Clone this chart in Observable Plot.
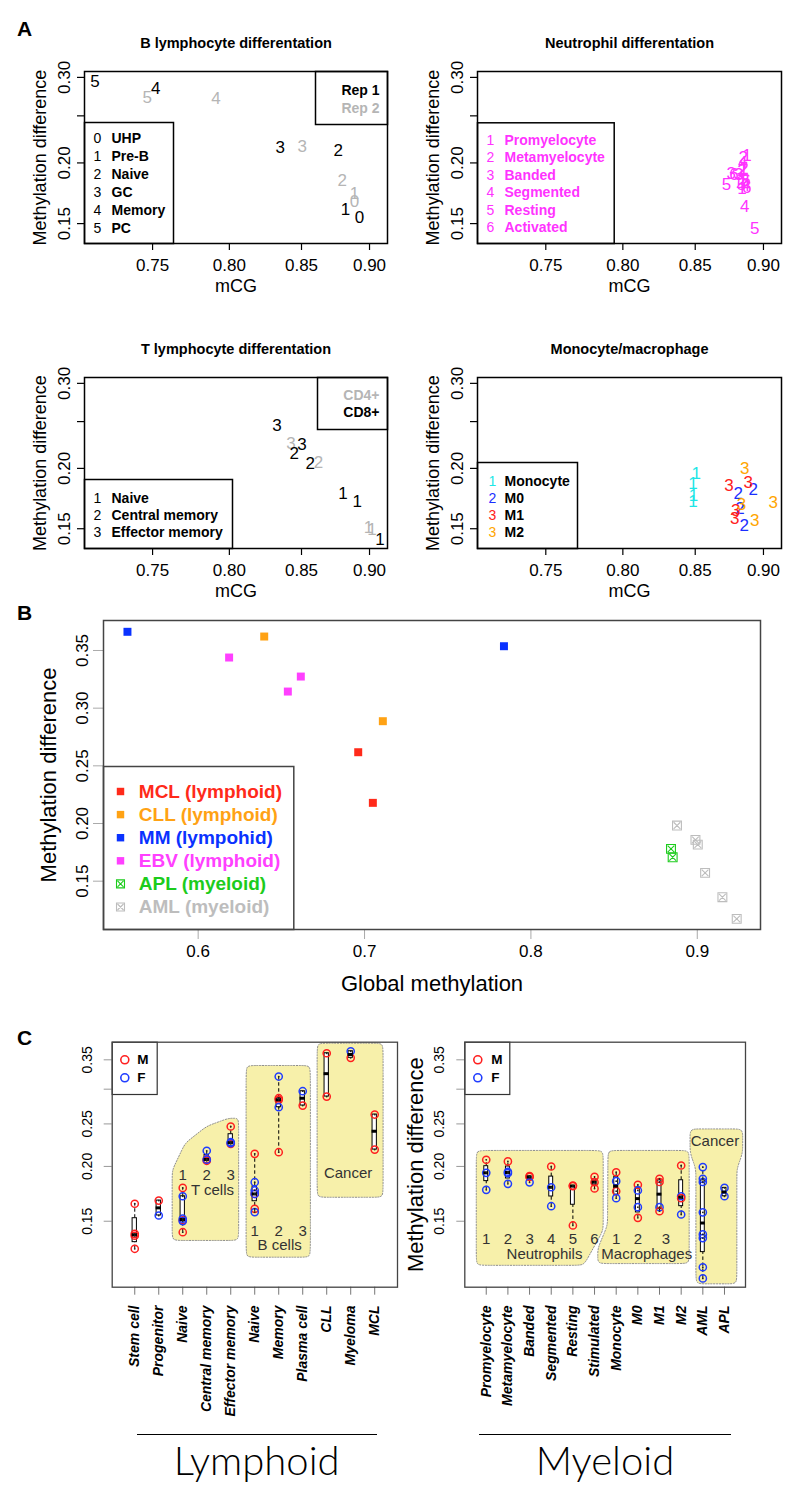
<!DOCTYPE html>
<html><head><meta charset="utf-8">
<script src="https://cdn.jsdelivr.net/npm/d3@7"></script>
<script src="https://cdn.jsdelivr.net/npm/@observablehq/plot@0.6"></script>
<style>
body{margin:0;background:#fff;}
#root{position:relative;width:800px;height:1495px;font-family:"Liberation Sans",Arial,Helvetica,sans-serif;color:#000;overflow:hidden;background:#fff;}
.letter{position:absolute;font-weight:bold;font-size:21px;line-height:21px;}
.grp{position:absolute;text-align:center;font-family:Lato,"Liberation Sans",sans-serif;font-weight:300;font-size:40px;line-height:40px;}
.grpline{position:absolute;height:0;border-top:1.6px solid #000;}
</style></head><body><div id="root"></div>
<script>
// ---------------- DATA ----------------
// Panel A: B lymphocyte
const bLymphLabel = ["5","4","5","4","3","3","2","2","1","0","1","0"];
const bLymphRep   = [1,1,2,2,1,2,1,2,2,2,1,1];
const bLymphX = [0.7145,0.752,0.7467,0.791,0.835,0.8505,0.8767,0.8796,0.8887,0.8887,0.882,0.8925];
const bLymphY = [0.294,0.284,0.273,0.271,0.2154,0.2164,0.212,0.184,0.1732,0.1668,0.160,0.1546];
const bLymphLegendNum = ["0","1","2","3","4","5"];
const bLymphLegendLab = ["UHP","Pre-B","Naive","GC","Memory","PC"];
// Panel A: neutrophil
const neutLabel = ["1","1","1","2","2","2","2","3","3","3","4","4","4","5","5","5","6","6","6"];
const neutX = [0.8877,0.885,0.884, 0.8848,0.8855,0.884,0.883, 0.876,0.8815,0.886, 0.8845,0.8865,0.886, 0.8725,0.8835,0.8935, 0.878,0.887,0.8875];
const neutY = [0.2071,0.1934,0.1769, 0.2053,0.1945,0.1930,0.1825, 0.1900,0.1893,0.1840, 0.1999,0.1793,0.1623, 0.1809,0.1804,0.1467, 0.1894,0.1841,0.1781];
const neutLegendNum = ["1","2","3","4","5","6"];
const neutLegendLab = ["Promyelocyte","Metamyelocyte","Banded","Segmented","Resting","Activated"];
// Panel A: T lymphocyte
const tLabel = ["3","3","3","2","2","2","1","1","1","1","1"];
const tType  = ["CD8+","CD4+","CD8+","CD8+","CD8+","CD4+","CD8+","CD8+","CD4+","CD4+","CD8+"];
const tX = [0.8326,0.8425,0.8503,0.8449,0.8563,0.8623,0.8801,0.8907,0.8993,0.9019,0.908];
const tY = [0.2453,0.2255,0.2241,0.2144,0.2043,0.2059,0.1777,0.1708,0.1508,0.1496,0.1423];
const tLegendNum = ["1","2","3"];
const tLegendLab = ["Naive","Central memory","Effector memory"];
// Panel A: monocyte / macrophage
const monoType = ["Monocyte","Monocyte","Monocyte","Monocyte","M0","M0","M0","M0","M1","M1","M1","M1","M2","M2","M2","M2"];
const monoLabel = ["1","1","1","1","2","2","2","2","3","3","3","3","3","3","3","3"];
const monoX = [0.8507,0.8484,0.8488,0.8484, 0.8811,0.8923,0.8824,0.8856, 0.8744,0.8885,0.8793,0.8786, 0.886,0.9074,0.8836,0.8935];
const monoY = [0.195,0.1858,0.1758,0.1704, 0.1772,0.1809,0.165,0.1524, 0.1844,0.1873,0.1636,0.1573, 0.2001,0.1703,0.1684,0.1556];
const monoLegendNum = ["1","2","3","3"];
const monoLegendLab = ["Monocyte","M0","M1","M2"];
const monoColors = {"Monocyte":"#1ee6e6","M0":"#1a2eff","M1":"#ff2020","M2":"#ffa500"};

// Panel B: cancers
const cancerType = ["MM","MM","CLL","CLL","EBV","EBV","EBV","MCL","MCL","APL","APL","AML","AML","AML","AML","AML","AML"];
const globalMeth = [0.5575,0.7838,0.6397,0.711,0.6186,0.6539,0.6617,0.6962,0.705,0.8842,0.8852,0.8878,0.8989,0.9003,0.9047,0.9151,0.9237];
const methDiff   = [0.3662,0.3537,0.3621,0.2887,0.3439,0.3144,0.3274,0.2618,0.2179,0.178,0.1707,0.1982,0.1858,0.1817,0.1572,0.1361,0.1173];
const bLegendType = ["MCL","CLL","MM","EBV","APL","AML"];
const bLegendText = ["MCL (lymphoid)","CLL (lymphoid)","MM (lympohid)","EBV (lymphoid)","APL (myeloid)","AML (myeloid)"];
const bColors = {MCL:"#ff2a1a", CLL:"#ffa214", MM:"#0a32ff", EBV:"#ff40ff", APL:"#1ccc1c", AML:"#bdbdbd"};

// Panel C: lymphoid
const lymCats = ["Stem cell","Progenitor","Naive","Central memory","Effector memory","Naive","Memory","Plasma cell","CLL","Myeloma","MCL"];
const lymIdx = [1,1,1,1,2,2,3,3,3,3,3,3,4,4,4,4,5,5,5,5,6,6,6,6,6,6,6,7,7,7,7,7,8,8,9,9,10,10,11,11];
const lymSex = ["M","M","M","M","M","F","M","M","M","F","F","F","M","M","F","F","M","M","F","F","M","M","M","F","F","F","F","M","M","M","F","F","M","F","M","M","M","F","M","M"];
const lymVal = [0.1644,0.1404,0.1390,0.1298, 0.1672,0.1546, 0.1787,0.1507,0.1416,0.1710,0.1520,0.1501, 0.2077,0.2060,0.2171,0.2072, 0.2466,0.2252,0.2271,0.2260, 0.2137,0.1731,0.1601,0.1841,0.1763,0.1731,0.1574, 0.2861,0.2837,0.2155,0.3206,0.2729, 0.2753,0.2968, 0.3623,0.2886, 0.3537,0.3661, 0.2626,0.2185];
// Panel C: myeloid
const myeCats = ["Promyelocyte","Metamyelocyte","Banded","Segmented","Resting","Stimulated","Monocyte","M0","M1","M2","AML","APL"];
const myeIdx = [1,1,1,2,2,2,2,3,3,3,4,4,4,5,5,5,6,6,6,7,7,7,7,8,8,8,8,9,9,9,9,10,10,10,10,11,11,11,11,11,11,11,11,12,12];
const myeSex = ["M","F","F","M","F","F","F","M","M","F","M","F","F","M","M","M","M","M","M","M","F","M","F","M","F","F","M","M","M","F","M","M","F","M","F","F","F","F","F","F","F","F","F","F","F"];
const myeVal = [0.2071,0.1934,0.1769, 0.2053,0.1945,0.1930,0.1825, 0.1900,0.1893,0.1840, 0.1999,0.1793,0.1623, 0.1809,0.1804,0.1467, 0.1894,0.1841,0.1781, 0.1940,0.1851,0.1756,0.1693, 0.1816,0.1763,0.1615,0.1527, 0.1874,0.1843,0.1615,0.1581, 0.2010,0.1710,0.1693,0.1554, 0.1993,0.1874,0.1843,0.1572,0.1400,0.1373,0.1178,0.1111, 0.1787,0.1710];

// Panel C annotation regions (category index, methylation difference)
const tCellHull   = [[2.56,0.1356],[2.56,0.196],[3.1,0.226],[4.0,0.247],[4.9,0.2575],[5.33,0.2575],[5.33,0.1356]];
const bCellHull   = [[5.64,0.1242],[5.64,0.3397],[8.32,0.3397],[8.32,0.1242]];
const cancerLHull = [[8.6,0.1701],[8.6,0.3819],[11.35,0.3819],[11.35,0.1701]];
const neutHull    = [[0.54,0.2175],[6.4,0.2175],[6.4,0.143],[5.5,0.119],[0.54,0.119]];
const macroHull   = [[6.62,0.2175],[10.37,0.2175],[10.37,0.1201],[6.15,0.1201],[6.15,0.13],[6.6,0.147]];
const cancerRHull = [[10.41,0.2435],[12.84,0.2435],[12.84,0.215],[12.57,0.197],[12.57,0.108],[10.68,0.108],[10.68,0.197],[10.41,0.215]];
const lymHullText = [["1",3,0.1907],["2",4,0.1907],["3",5,0.1907],["T cells",4.24,0.1764],["1",6,0.1427],["2",7,0.1427],["3",8,0.1427],["B cells",7.04,0.1323],["Cancer",9.89,0.193]];
const myeHullText = [["1",1,0.1368],["2",2,0.1368],["3",3,0.1368],["4",4,0.1368],["5",5,0.1368],["6",6,0.1368],["Neutrophils",3.69,0.1263],["1",7,0.1368],["2",8,0.1368],["3",9.3,0.1368],["Macrophages",8.41,0.1263],["Cancer",11.56,0.228]];

// ---------------- HELPERS ----------------
const FONT = '"Liberation Sans", Arial, Helvetica, sans-serif';
const RED = "#ff1f1f", BLUE = "#1f3cff", GRAY = "#b5b5b5", MAG = "#ff33ff";
const root = document.getElementById("root");
function place(el, left, top) {
  const d = document.createElement("div");
  d.style.position = "absolute"; d.style.left = left + "px"; d.style.top = top + "px";
  d.appendChild(el); root.appendChild(d);
}
function html(cls, left, top, text, extra) {
  const d = document.createElement("div");
  d.className = cls; d.style.left = left + "px"; d.style.top = top + "px";
  if (text) d.textContent = text;
  if (extra) Object.assign(d.style, extra);
  root.appendChild(d);
}
const T = (data, o) => Plot.text(data, {textAnchor: "middle", lineAnchor: "middle", ...o});
const baseStyle = {fontFamily: FONT, fontSize: "14px", overflow: "visible", background: "transparent", color: "#000"};

function legendRows(nums, labs, numColors, labColors, dx0, dx1, dy0, step, fs = 14) {
  return nums.flatMap((n, i) => [
    T([n], {frameAnchor: "top-left", dx: dx0, dy: dy0 + i * step, fill: numColors[i], fontSize: fs}),
    T([labs[i]], {frameAnchor: "top-left", dx: dx1, dy: dy0 + i * step, fill: labColors[i], fontSize: fs, fontWeight: "bold", textAnchor: "start"})
  ]);
}

// ---------------- PANEL A ----------------
const aTicksX = [0.75, 0.80, 0.85, 0.90];
const aTicksY = [0.15, 0.20, 0.25, 0.30];
const aTickLabY = [0.15, 0.20, 0.30];
function panelA(o) {
  const pts = o.x.map((x, i) => ({x, y: o.y[i], t: o.label[i], c: o.color[i]}));
  return Plot.plot({
    width: 400, height: 300,
    marginLeft: o.ml, marginRight: o.mr, marginTop: o.mt, marginBottom: o.mb,
    x: {type: "log", domain: [0.7083, 0.9137]},
    y: {type: "log", domain: [0.1365, 0.3085]},
    color: {type: "identity"},
    style: baseStyle,
    marks: [
      Plot.axisX({ticks: aTicksX, tickSize: 7, tickFormat: () => "", label: null, strokeWidth: 1.2}),
      Plot.axisY({ticks: aTicksY, tickSize: 7, tickFormat: () => "", label: null, strokeWidth: 1.2}),
      T(aTicksX, {x: d => d, frameAnchor: "bottom", dy: 22, text: d => d.toFixed(2), fontSize: 17}),
      T(aTickLabY, {y: d => d, frameAnchor: "left", dx: -20, rotate: -90, text: d => d.toFixed(2), fontSize: 17}),
      T(["mCG"], {frameAnchor: "bottom", dy: 43, fontSize: 18}),
      T(["Methylation difference"], {frameAnchor: "left", dx: -44, rotate: -90, fontSize: 18}),
      T([o.title], {frameAnchor: "top", dy: -28, fontSize: 14.5, fontWeight: "bold"}),
      T(pts, {x: "x", y: "y", text: "t", fill: "c", fontSize: 17}),
      ...o.extra,
      Plot.frame({stroke: "black", strokeWidth: 1.5})
    ]
  });
}

place(panelA({
  title: "B lymphocyte differentation", ml: 84, mr: 13, mt: 71, mb: 57,
  x: bLymphX, y: bLymphY, label: bLymphLabel, color: bLymphRep.map(r => r === 1 ? "#000" : GRAY),
  extra: [
    Plot.frame({insetTop: 51, insetRight: 214, stroke: "black", strokeWidth: 1.5}),
    ...legendRows(bLymphLegendNum, bLymphLegendLab, bLymphLegendNum.map(() => "#000"), bLymphLegendNum.map(() => "#000"), 13, 27, 67.3, 18),
    Plot.frame({insetLeft: 231, insetBottom: 119, stroke: "black", strokeWidth: 1.5}),
    T(["Rep 1"], {frameAnchor: "top-right", dx: -8, dy: 19, textAnchor: "end", fontWeight: "bold", fontSize: 14}),
    T(["Rep 2"], {frameAnchor: "top-right", dx: -8, dy: 37, textAnchor: "end", fontWeight: "bold", fontSize: 14, fill: GRAY})
  ]
}), 0, 0);

place(panelA({
  title: "Neutrophil differentation", ml: 77, mr: 19, mt: 71, mb: 57,
  x: neutX, y: neutY, label: neutLabel, color: neutLabel.map(() => MAG),
  extra: [
    Plot.frame({insetTop: 51.3, insetRight: 167.3, stroke: "black", strokeWidth: 1.5}),
    ...legendRows(neutLegendNum, neutLegendLab, neutLegendNum.map(() => MAG), neutLegendNum.map(() => MAG), 13, 27, 69, 17.5)
  ]
}), 400, 0);

place(panelA({
  title: "T lymphocyte differentation", ml: 84, mr: 13, mt: 77, mb: 52,
  x: tX, y: tY, label: tLabel, color: tType.map(t => t === "CD8+" ? "#000" : GRAY),
  extra: [
    Plot.frame({insetTop: 102, insetRight: 155, stroke: "black", strokeWidth: 1.5}),
    ...legendRows(tLegendNum, tLegendLab, tLegendNum.map(() => "#000"), tLegendNum.map(() => "#000"), 13, 27, 121, 17),
    Plot.frame({insetLeft: 233, insetBottom: 119, stroke: "black", strokeWidth: 1.5}),
    T(["CD4+"], {frameAnchor: "top-right", dx: -8, dy: 18, textAnchor: "end", fontWeight: "bold", fontSize: 14, fill: GRAY}),
    T(["CD8+"], {frameAnchor: "top-right", dx: -8, dy: 35, textAnchor: "end", fontWeight: "bold", fontSize: 14})
  ]
}), 0, 300);

place(panelA({
  title: "Monocyte/macrophage", ml: 77, mr: 19, mt: 77, mb: 52,
  x: monoX, y: monoY, label: monoLabel, color: monoType.map(t => monoColors[t]),
  extra: [
    Plot.frame({insetTop: 85, insetRight: 204, stroke: "black", strokeWidth: 1.5}),
    ...legendRows(monoLegendNum, monoLegendLab, monoLegendLab.map(l => monoColors[l]), monoLegendLab.map(() => "#000"), 15, 27, 104, 17)
  ]
}), 400, 300);

// ---------------- PANEL B ----------------
const crossBox = {
  draw(ctx, size) {
    const s = Math.sqrt(size) / 2;
    ctx.moveTo(-s, -s); ctx.lineTo(s, -s); ctx.lineTo(s, s); ctx.lineTo(-s, s); ctx.closePath();
    ctx.moveTo(-s * 0.75, -s * 0.75); ctx.lineTo(s * 0.75, s * 0.75);
    ctx.moveTo(s * 0.75, -s * 0.75); ctx.lineTo(-s * 0.75, s * 0.75);
  }
};
const isCross = t => t === "APL" || t === "AML";
const bPts = cancerType.map((t, i) => ({t, x: globalMeth[i], y: methDiff[i], c: bColors[t]}));
const bTicksX = [0.6, 0.7, 0.8, 0.9];
const bTicksY = [0.15, 0.20, 0.25, 0.30, 0.35];
place(Plot.plot({
  width: 800, height: 400, marginLeft: 103, marginRight: 40, marginTop: 20, marginBottom: 71,
  x: {domain: [0.5431, 0.938]}, y: {domain: [0.1081, 0.376]},
  color: {type: "identity"}, style: baseStyle,
  marks: [
    Plot.axisX({ticks: bTicksX, tickSize: 10, tickFormat: () => "", label: null, stroke: "#aaa"}),
    Plot.axisY({ticks: bTicksY, tickSize: 10, tickFormat: () => "", label: null, stroke: "#aaa"}),
    T(bTicksX, {x: d => d, frameAnchor: "bottom", dy: 22, text: d => d.toFixed(1), fontSize: 17}),
    T(bTicksY, {y: d => d, frameAnchor: "left", dx: -21, rotate: -90, text: d => d.toFixed(2), fontSize: 17}),
    T(["Global methylation"], {frameAnchor: "bottom", dy: 54, fontSize: 22}),
    T(["Methylation difference"], {frameAnchor: "left", dx: -55, rotate: -90, fontSize: 22}),
    Plot.dot(bPts.filter(d => !isCross(d.t)), {x: "x", y: "y", symbol: "square", r: 4.5, fill: "c", stroke: "none"}),
    Plot.dot(bPts.filter(d => isCross(d.t)), {x: "x", y: "y", symbol: crossBox, r: 5, stroke: "c", fill: "none", strokeWidth: 1.1}),
    Plot.frame({insetTop: 146, insetRight: 466.7, stroke: "#444", strokeWidth: 1.5}),
    ...bLegendType.flatMap((t, i) => [
      isCross(t)
        ? Plot.dot([t], {frameAnchor: "top-left", dx: 17, dy: 171 + i * 23.1, symbol: crossBox, r: 4.5, stroke: bColors[t], fill: "none", strokeWidth: 1.1})
        : Plot.dot([t], {frameAnchor: "top-left", dx: 17, dy: 171 + i * 23.1, symbol: "square", r: 4.2, fill: bColors[t], stroke: "none"}),
      T([bLegendText[i]], {frameAnchor: "top-left", dx: 35.3, dy: 171 + i * 23.1, textAnchor: "start", fontWeight: "bold", fontSize: 19, fill: bColors[t]})
    ]),
    Plot.frame({stroke: "#444", strokeWidth: 1.5})
  ]
}), 0, 600);

// ---------------- PANEL C ----------------
function fivenum(v) {
  const x = v.slice().sort((a, b) => a - b), n = x.length;
  const n4 = Math.floor((n + 3) / 2) / 2;
  return [1, n4, (n + 1) / 2, n + 1 - n4, n].map(k => 0.5 * (x[Math.floor(k) - 1] + x[Math.ceil(k) - 1]));
}
// rounded outline of an annotation region (corner rounding ~r px)
function roundHull(corners, kx, r = 9, ky = 190.5) {
  const P = corners.map(([x, y]) => [x * kx, -Math.log(y) * ky]);
  const n = P.length, out = [];
  const toward = (a, b) => { const dx = b[0] - a[0], dy = b[1] - a[1], L = Math.hypot(dx, dy), t = Math.min(r / L, 0.5); return [a[0] + dx * t, a[1] + dy * t]; };
  for (let i = 0; i < n; i++) {
    const c = P[i], p = P[(i - 1 + n) % n], q = P[(i + 1) % n];
    out.push(toward(c, p), c, toward(c, q));
  }
  return out.map(([u, v]) => ({x: u / kx, y: Math.exp(-v / ky)}));
}
const cTicksY = [0.15, 0.20, 0.25, 0.30, 0.35];
const cTickLabY = [0.15, 0.20, 0.25, 0.35];
function panelC(o) {
  const pts = o.idx.map((i, k) => ({i, s: o.sex[k], v: o.val[k]}));
  const stats = o.cats.map((c, j) => {
    const f = fivenum(pts.filter(d => d.i === j + 1).map(d => d.v));
    return {i: j + 1, min: f[0], q1: f[1], med: f[2], q3: f[3], max: f[4]};
  });
  const fw = 400 - o.ml - o.mr;
  return Plot.plot({
    width: 400, height: 495, marginLeft: o.ml, marginRight: o.mr, marginTop: 41.7, marginBottom: 208.3,
    x: {domain: o.xdom}, y: {type: "log", domain: [0.1061, 0.3839]},
    color: {type: "identity"}, style: baseStyle,
    marks: [
      ...o.hulls.map(h => Plot.line(roundHull(h, o.kx), {x: "x", y: "y", curve: "basis-closed", fill: "#f7f0aa", stroke: "#8c8c8c", strokeWidth: 1, strokeDasharray: "1.2,1.6"})),
      Plot.axisX({ticks: o.cats.map((c, j) => j + 1), tickSize: 8, tickFormat: () => "", label: null, stroke: "#777"}),
      Plot.axisY({ticks: cTicksY, tickSize: 8, tickFormat: () => "", label: null, stroke: "#999"}),
      T(cTickLabY, {y: d => d, frameAnchor: "left", dx: o.ytdx, rotate: -90, text: d => d.toFixed(2), fontSize: 14}),
      T(o.cats, {x: (d, j) => j + 1, frameAnchor: "bottom", dy: 18.3, rotate: -90, textAnchor: "end", fontWeight: "bold", fontStyle: "italic", fontSize: 14}),
      T(o.hullText, {x: d => d[1], y: d => d[2], text: d => d[0], fontSize: 15, fill: "#333"}),
      Plot.ruleX(stats, {x: "i", y1: "min", y2: "q1", stroke: "black", strokeWidth: 1, strokeDasharray: "3.5,2.5"}),
      Plot.ruleX(stats, {x: "i", y1: "q3", y2: "max", stroke: "black", strokeWidth: 1, strokeDasharray: "3.5,2.5"}),
      Plot.rect(stats, {x1: d => d.i - 0.09, x2: d => d.i + 0.09, y1: "q1", y2: "q3", fill: "white", stroke: "black", strokeWidth: 1}),
      Plot.dot(pts, {x: "i", y: "v", r: 3.6, fill: "none", stroke: d => d.s === "M" ? RED : BLUE, strokeWidth: 1.5}),
      Plot.ruleY(stats, {y: "med", x1: d => d.i - 0.11, x2: d => d.i + 0.11, stroke: "black", strokeWidth: 3}),
      Plot.dot(pts, {x: "i", y: "v", r: 0.9, fill: "#222", stroke: "none"}),
      Plot.frame({insetRight: fw - o.legW, insetBottom: 192.7, stroke: "#333", strokeWidth: 1.2, fill: "white"}),
      Plot.dot(["M"], {frameAnchor: "top-left", dx: o.legCx, dy: 17.6, r: 4, stroke: RED, fill: "none", strokeWidth: 1.6}),
      Plot.dot(["F"], {frameAnchor: "top-left", dx: o.legCx, dy: 35.6, r: 4, stroke: BLUE, fill: "none", strokeWidth: 1.6}),
      T(["M"], {frameAnchor: "top-left", dx: o.legTx, dy: 17.6, textAnchor: "start", fontWeight: "bold", fontSize: 13.5}),
      T(["F"], {frameAnchor: "top-left", dx: o.legTx, dy: 35.6, textAnchor: "start", fontWeight: "bold", fontSize: 13.5}),
      ...(o.ylab ? [T(["Methylation difference"], {frameAnchor: "left", dx: -49, rotate: -90, fontSize: 22})] : []),
      Plot.frame({stroke: "#444", strokeWidth: 1.3})
    ]
  });
}
place(panelC({
  cats: lymCats, idx: lymIdx, sex: lymSex, val: lymVal, ml: 111.7, mr: 3, xdom: [0.06, 11.95], kx: 24,
  hulls: [tCellHull, bCellHull, cancerLHull], hullText: lymHullText,
  ytdx: -24.4, legW: 45, legCx: 12.6, legTx: 25, ylab: false
}), 0, 1000);
place(panelC({
  cats: myeCats, idx: myeIdx, sex: myeSex, val: myeVal, ml: 64.3, mr: 55, xdom: [0.01, 12.97], kx: 21.66,
  hulls: [neutHull, macroHull, cancerRHull], hullText: myeHullText,
  ytdx: -25, legW: 45, legCx: 13, legTx: 26.4, ylab: true
}), 400, 1000);

// ---------------- PANEL LETTERS AND GROUP CAPTIONS ----------------
html("letter", 17, 18, "A");
html("letter", 17, 602, "B");
html("letter", 17, 1027, "C");
html("grpline", 136.7, 1434, "", {width: "240px"});
html("grp", 136.7, 1440, "Lymphoid", {width: "240px"});
html("grpline", 479, 1434, "", {width: "252px"});
html("grp", 479, 1440, "Myeloid", {width: "252px"});
</script></body></html>
